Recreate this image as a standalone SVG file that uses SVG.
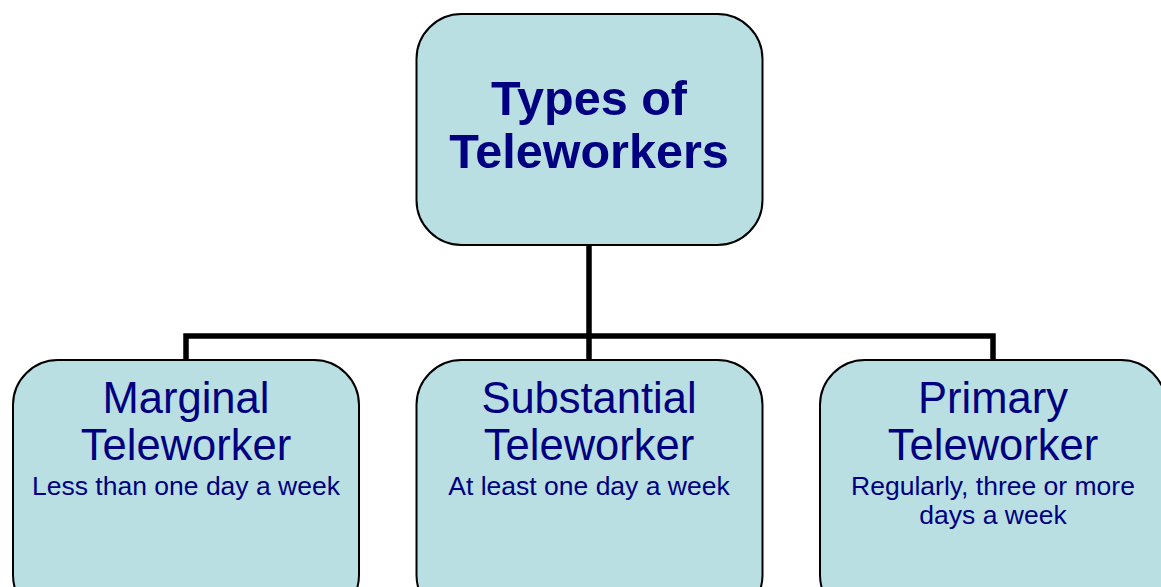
<svg xmlns="http://www.w3.org/2000/svg" width="1161" height="587" viewBox="0 0 1161 587">
<style>
.box{fill:#b9dfe3;stroke:#000;stroke-width:2}
.t{font-family:"Liberation Sans",Arial,sans-serif;fill:#000080;text-anchor:middle}
.h{font-size:48.5px;font-weight:bold}
.m{font-size:43.5px}
.s{font-size:26.5px}
.c{fill:none;stroke:#000;stroke-width:5.5}
</style>
<rect width="1161" height="587" fill="#fff"/>
<g id="connectors">
<path class="c" d="M589 245V336M186 360V336H993V360M589 336V360"/>
</g>
<g id="root">
<rect class="box" x="416.5" y="14" width="346" height="231" rx="45"/>
<text class="t h" x="589" y="115">Types of</text>
<text class="t h" x="589" y="168">Teleworkers</text>
</g>
<g id="marginal">
<rect class="box" x="13" y="360" width="346" height="260" rx="45"/>
<text class="t m" x="186" y="413">Marginal</text>
<text class="t m" x="186" y="460">Teleworker</text>
<text class="t s" x="186" y="495">Less than one day a week</text>
</g>
<g id="substantial">
<rect class="box" x="416.5" y="360" width="346" height="260" rx="45"/>
<text class="t m" x="589" y="413">Substantial</text>
<text class="t m" x="589" y="460">Teleworker</text>
<text class="t s" x="589" y="495">At least one day a week</text>
</g>
<g id="primary">
<rect class="box" x="820" y="360" width="346" height="260" rx="45"/>
<text class="t m" x="993" y="413">Primary</text>
<text class="t m" x="993" y="460">Teleworker</text>
<text class="t s" x="993" y="495">Regularly, three or more</text>
<text class="t s" x="993" y="524">days a week</text>
</g>
</svg>
